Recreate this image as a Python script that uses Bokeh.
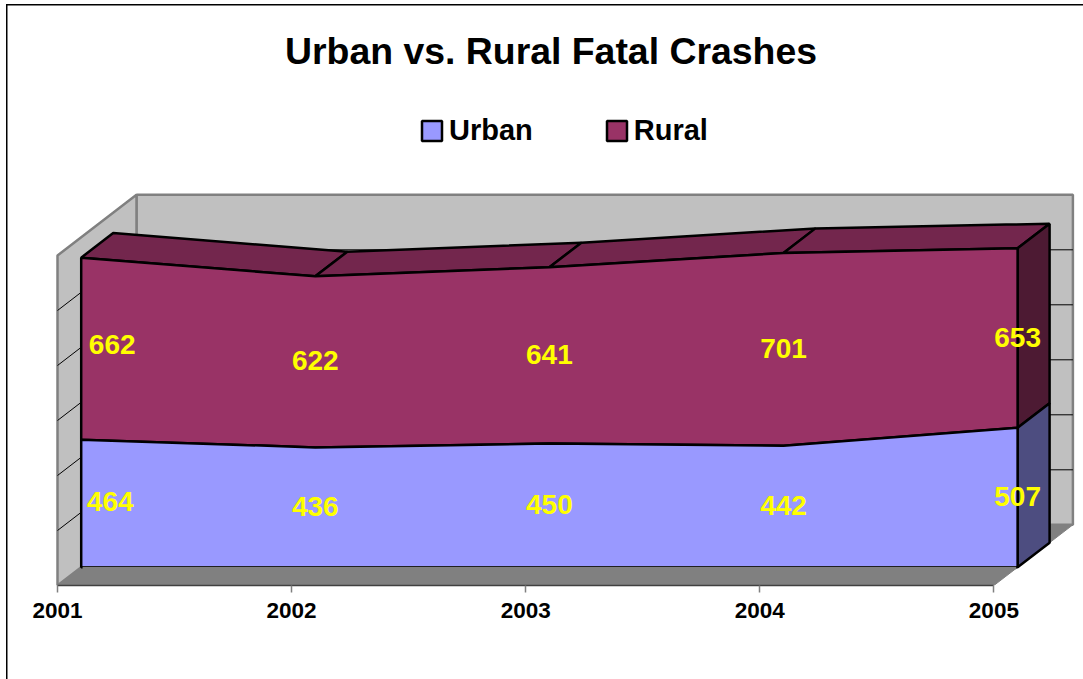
from bokeh.plotting import figure
from bokeh.models import Range1d, FixedTicker, NumeralTickFormatter, Legend, LegendItem, Label, ColumnDataSource
from bokeh.core.properties import value
from bokeh.embed import file_html
from bokeh.resources import INLINE

years = [2001, 2002, 2003, 2004, 2005]
urban = [464, 436, 450, 442, 507]
rural = [662, 622, 641, 701, 653]
grid_values = [200, 400, 600, 800, 1000]
axis_max = 1200
title_text = "Urban vs. Rural Fatal Crashes"

FONT = "Liberation Sans"
URBAN, URBAN_SIDE = "#9999FF", "#4D4D80"
RURAL, RURAL_TOP, RURAL_SIDE = "#993366", "#73264D", "#4D1A33"
WALL, FLOOR, EDGE = "#C0C0C0", "#808080", "#808080"

W, H, AXIS_H = 1083, 679, 94
FRAME_H = H - AXIS_H
X0, PX_PER_YEAR, PX_PER_UNIT = 57, 234.1, 0.275
DEPTH_X = 79 / PX_PER_YEAR
DEPTH_Y = 60.7 / PX_PER_UNIT
Z_FRONT, Z_BACK = 0.30, 0.705
LW = 2.5


def px_x(px):
    return years[0] + (px - X0) / PX_PER_YEAR


def px_y(py):
    return (FRAME_H - py) / PX_PER_UNIT


def X(year, z=0.0):
    return year + z * DEPTH_X


def Y(val, z=0.0):
    return val + z * DEPTH_Y


p = figure(width=W, height=H, output_backend="svg", toolbar_location=None,
           x_range=Range1d(px_x(0), px_x(W)), y_range=Range1d(0, px_y(0)),
           min_border=0, min_border_bottom=AXIS_H, y_axis_type="linear")
# the chart area's left and top edges sit behind a transparent canvas
p.styles = {
    "position": "absolute", "left": "0px", "top": "0px",
    "background": "linear-gradient(#000,#000) 6px 4px/1.5px 675px no-repeat,"
                  "linear-gradient(#000,#000) 6px 4px/1077px 1.5px no-repeat,#fff",
}
p.border_fill_color = None
p.background_fill_color = None
p.outline_line_color = None
p.grid.visible = False
p.yaxis.visible = False

ax = p.xaxis[0]
ax.ticker = FixedTicker(ticks=years)
ax.formatter = NumeralTickFormatter(format="0")
ax.bounds = (years[0], years[-1])
ax.axis_line_color = "#404040"
ax.axis_line_width = 1.5
ax.major_tick_line_color = EDGE
ax.major_tick_line_width = 1.5
ax.major_tick_in = 0
ax.major_tick_out = 7
ax.minor_tick_line_color = None
ax.major_label_standoff = 10
ax.major_label_text_font = FONT
ax.major_label_text_font_style = "bold"
ax.major_label_text_font_size = "22.5px"
ax.major_label_text_color = "black"

x_a, x_b = years[0], years[-1]

# walls and floor
p.patch([X(x_a, 1), X(x_b, 1), X(x_b, 1), X(x_a, 1)],
        [Y(0, 1), Y(0, 1), Y(axis_max, 1), Y(axis_max, 1)],
        fill_color=WALL, line_color=EDGE, line_width=2.5)
p.patch([X(x_a), X(x_a, 1), X(x_a, 1), X(x_a)],
        [Y(0), Y(0, 1), Y(axis_max, 1), Y(axis_max)],
        fill_color=WALL, line_color=EDGE, line_width=2.5)
p.patch([X(x_a), X(x_b), X(x_b, 1), X(x_a, 1)],
        [Y(0), Y(0), Y(0, 1), Y(0, 1)],
        fill_color=FLOOR, line_color=EDGE, line_width=1)

# gridlines on the two walls
for g in grid_values:
    p.line([X(x_a), X(x_a, 1), X(x_b, 1)], [Y(g), Y(g, 1), Y(g, 1)],
           line_color="black", line_width=1)

totals = [u + r for u, r in zip(urban, rural)]

# top faces of the rural band
for i in range(len(years) - 1):
    a, b = years[i], years[i + 1]
    ta, tb = totals[i], totals[i + 1]
    p.patch([X(a, Z_FRONT), X(b, Z_FRONT), X(b, Z_BACK), X(a, Z_BACK)],
            [Y(ta, Z_FRONT), Y(tb, Z_FRONT), Y(tb, Z_BACK), Y(ta, Z_BACK)],
            fill_color=RURAL_TOP, line_color="black", line_width=LW)

# side faces at the last year
last = years[-1]
p.patch([X(last, Z_FRONT), X(last, Z_BACK), X(last, Z_BACK), X(last, Z_FRONT)],
        [Y(urban[-1], Z_FRONT), Y(urban[-1], Z_BACK), Y(totals[-1], Z_BACK), Y(totals[-1], Z_FRONT)],
        fill_color=RURAL_SIDE, line_color="black", line_width=LW)
p.patch([X(last, Z_FRONT), X(last, Z_BACK), X(last, Z_BACK), X(last, Z_FRONT)],
        [Y(0, Z_FRONT), Y(0, Z_BACK), Y(urban[-1], Z_BACK), Y(urban[-1], Z_FRONT)],
        fill_color=URBAN_SIDE, line_color="black", line_width=LW)

# front faces
xs_front = [X(y, Z_FRONT) for y in years]
r_rural = p.patch(xs_front + xs_front[::-1],
                  [Y(t, Z_FRONT) for t in totals] + [Y(u, Z_FRONT) for u in urban[::-1]],
                  fill_color=RURAL, line_color="black", line_width=LW)
r_urban = p.patch(xs_front + xs_front[::-1],
                  [Y(u, Z_FRONT) for u in urban] + [Y(0, Z_FRONT)] * len(years),
                  fill_color=URBAN, line_color="black", line_width=LW)
# the base of the series has no outline: it melts into the floor
p.line([xs_front[0] + 0.006, xs_front[-1] - 0.006], [Y(0, Z_FRONT) - 3, Y(0, Z_FRONT) - 3],
       line_color=FLOOR, line_width=2.5)

# data labels (first labels are nudged inside the area)
nudge_u = [29, 0, 0, 0, 0]
nudge_r = [31, 0, 0, 0, 0]
lift_u = [2, 1, 1, 1, 1]
lift_r = [4, 1, 1, 1, 1]
lab = ColumnDataSource(dict(
    x=xs_front + xs_front,
    y=[Y(u / 2, Z_FRONT) for u in urban] + [Y(u + r / 2, Z_FRONT) for u, r in zip(urban, rural)],
    t=[str(v) for v in urban + rural],
    dx=nudge_u + nudge_r,
    dy=[-d for d in lift_u + lift_r],
))
p.text("x", "y", text="t", x_offset="dx", y_offset="dy", source=lab, text_color="#FFFF00",
       text_font=value(FONT), text_font_style="bold", text_font_size="28px",
       text_align="center", text_baseline="middle")

# title
p.add_layout(Label(x=px_x(550.5), y=px_y(50), text=title_text, text_font=FONT,
                   text_font_style="bold", text_font_size="37.4px", text_color="black",
                   text_align="center", text_baseline="middle"))

# legend
legend = Legend(items=[LegendItem(label="Urban", renderers=[r_urban]),
                       LegendItem(label="Rural", renderers=[r_rural])],
                orientation="horizontal", location=(419, FRAME_H - 130 - 17),
                background_fill_alpha=0, border_line_color=None,
                padding=0, margin=0, spacing=71, label_standoff=5,
                glyph_width=25, glyph_height=25,
                label_text_font=FONT, label_text_font_style="bold",
                label_text_font_size="29px", label_text_color="black")
p.add_layout(legend, "center")

open("out.html", "w").write(file_html(p, INLINE))
